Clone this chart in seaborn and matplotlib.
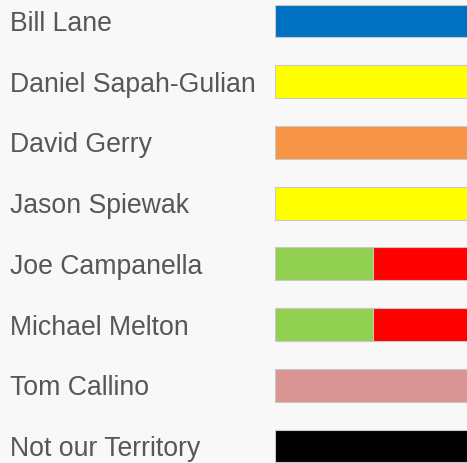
import matplotlib
matplotlib.use("Agg")
import matplotlib.pyplot as plt
import matplotlib.transforms as mtransforms
import seaborn as sns
import pandas as pd

# Data
names = ["Bill Lane", "Daniel Sapah-Gulian", "David Gerry", "Jason Spiewak",
         "Joe Campanella", "Michael Melton", "Tom Callino", "Not our Territory"]
first_share = [1.0, 1.0, 1.0, 1.0, 0.5, 0.5, 1.0, 1.0]
first_color = ["#0070C0", "#FFFF00", "#F79646", "#FFFF00",
               "#92D050", "#92D050", "#DA9694", "#000000"]
second_share = [0.0, 0.0, 0.0, 0.0, 0.5, 0.5, 0.0, 0.0]
second_color = ["#FF0000"] * 8

BG = "#f8f8f8"

def main():
    sns.set_theme(style="white")
    plt.rcParams["font.family"] = ["Liberation Sans", "DejaVu Sans"]

    df = pd.DataFrame({"name": names, "first": first_share, "second": second_share})

    fig = plt.figure(figsize=(4.67, 4.63), dpi=100, facecolor=BG)
    ax = fig.add_axes([275 / 467, 0, 1 - 275 / 467, 1])
    ax.set_facecolor(BG)

    sns.barplot(data=df, x="first", y="name", hue="name", palette=first_color,
                orient="h", width=0.54, saturation=1, legend=False,
                edgecolor="#c8c8c8", linewidth=0.8, ax=ax)

    # second segment of split rows
    mask = df["second"] > 0
    ax.barh(df.index[mask], df["second"][mask], left=df["first"][mask],
            height=0.54, color=second_color[0], edgecolor="#c8c8c8", linewidth=0.8)

    ax.set_xlim(0, 0.98)
    ax.set_ylim(7.28, -0.346)
    ax.set_xlabel("")
    ax.set_ylabel("")
    ax.set_xticks([])
    ax.set_yticks([])
    for s in ax.spines.values():
        s.set_visible(False)

    trans = mtransforms.blended_transform_factory(fig.transFigure, ax.transData)
    for i, name in enumerate(names):
        ax.text(10 / 467, i, name, transform=trans, ha="left", va="center_baseline",
                fontsize=19.2, color="#575757")

    fig.savefig("out.png", dpi=100, facecolor=BG)
    plt.close(fig)

if __name__ == "__main__":
    main()
